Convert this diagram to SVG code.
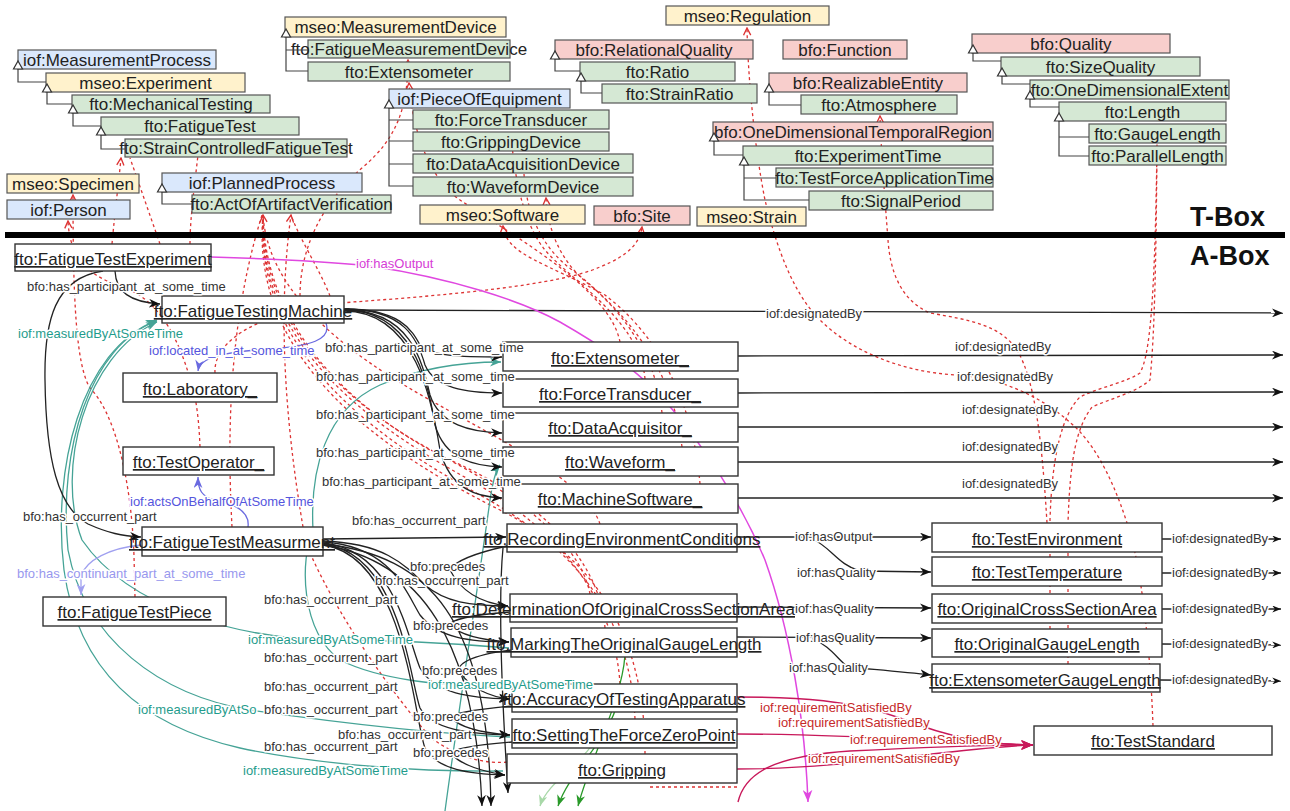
<svg xmlns="http://www.w3.org/2000/svg" width="1290" height="811" viewBox="0 0 1290 811">
<style>
text{font-family:"Liberation Sans",Arial,sans-serif}
.tb{stroke:#555;stroke-width:1.2}
.blue{fill:#dae8fc}.yel{fill:#fff2cc}.grn{fill:#d5e8d4}.red{fill:#f8cecc}
.tt{font-size:17px;fill:#222;text-anchor:middle}
.ab{fill:#fff;stroke:#333;stroke-width:1.4}
.at{font-size:17px;fill:#222;text-anchor:middle;text-decoration:underline}
.dash{fill:none;stroke:#dd3333;stroke-width:1.3;stroke-dasharray:3 3}
.blk{fill:none;stroke:#222;stroke-width:1.3}
.teal{fill:none;stroke:#45a396;stroke-width:1.3}
.pur{fill:none;stroke:#6a6ae0;stroke-width:1.3}
.lpur{fill:none;stroke:#a0a0f0;stroke-width:1.3}
.mag{fill:none;stroke:#e048e0;stroke-width:1.5}
.crim{fill:none;stroke:#c8185a;stroke-width:1.4}
.grnl{fill:none;stroke:#2a9a2a;stroke-width:1.3}
.lgrnl{fill:none;stroke:#a8d8a8;stroke-width:1.3}
.gen{fill:none;stroke:#444;stroke-width:1.2}
.tri{fill:#fff;stroke:#333;stroke-width:1.2}
.lbl{font-size:13px;paint-order:stroke;stroke:#fff;stroke-width:3px;stroke-linejoin:round}
.k{fill:#333}.tl{fill:#1f9c8c}.pu{fill:#5555dd}.lp{fill:#9898ee}.mg{fill:#d63cd6}.cr{fill:#c62a2a}
.box{font-size:27px;font-weight:bold;fill:#111}
</style>
<defs>
<marker id="mk" viewBox="0 0 10 8" refX="10" refY="4" markerWidth="11" markerHeight="9" markerUnits="userSpaceOnUse" orient="auto"><path d="M0,0 L10,4 L0,8 L3,4 z" fill="#111"/></marker>
<marker id="mks" viewBox="0 0 10 8" refX="10" refY="4" markerWidth="9" markerHeight="7" markerUnits="userSpaceOnUse" orient="auto"><path d="M0,0 L10,4 L0,8 L3,4 z" fill="#111"/></marker>
<marker id="mt" viewBox="0 0 10 8" refX="10" refY="4" markerWidth="11" markerHeight="9" markerUnits="userSpaceOnUse" orient="auto"><path d="M0,0 L10,4 L0,8 L3,4 z" fill="#45a396"/></marker>
<marker id="mp" viewBox="0 0 10 8" refX="10" refY="4" markerWidth="11" markerHeight="9" markerUnits="userSpaceOnUse" orient="auto"><path d="M0,0 L10,4 L0,8 L3,4 z" fill="#6a6ae0"/></marker>
<marker id="mlp" viewBox="0 0 10 8" refX="10" refY="4" markerWidth="11" markerHeight="9" markerUnits="userSpaceOnUse" orient="auto"><path d="M0,0 L10,4 L0,8 L3,4 z" fill="#a0a0f0"/></marker>
<marker id="mm" viewBox="0 0 10 8" refX="10" refY="4" markerWidth="12" markerHeight="10" markerUnits="userSpaceOnUse" orient="auto"><path d="M0,0 L10,4 L0,8 L3,4 z" fill="#e048e0"/></marker>
<marker id="mc" viewBox="0 0 10 8" refX="10" refY="4" markerWidth="12" markerHeight="10" markerUnits="userSpaceOnUse" orient="auto"><path d="M0,0 L10,4 L0,8 L3,4 z" fill="#c8185a"/></marker>
<marker id="mg" viewBox="0 0 10 8" refX="10" refY="4" markerWidth="11" markerHeight="9" markerUnits="userSpaceOnUse" orient="auto"><path d="M0,0 L10,4 L0,8 L3,4 z" fill="#2a9a2a"/></marker>
<marker id="mlg" viewBox="0 0 10 8" refX="10" refY="4" markerWidth="11" markerHeight="9" markerUnits="userSpaceOnUse" orient="auto"><path d="M0,0 L10,4 L0,8 L3,4 z" fill="#a8d8a8"/></marker>
<marker id="mo" viewBox="0 0 10 10" refX="9" refY="5" markerWidth="9" markerHeight="9" markerUnits="userSpaceOnUse" orient="auto"><path d="M1,1 L9,5 L1,9" fill="none" stroke="#dd3333" stroke-width="1.5"/></marker>
</defs>
<rect width="1290" height="811" fill="#fff"/>

<g id="connectors">
<!-- type links (dashed) -->
<path class="dash" marker-end="url(#mo)" d="M135 597 L134 556 C131 470 112 410 90 388 C76 365 73 300 73 195"/>
<path class="dash" marker-end="url(#mo)" d="M200 447 C199 420 196 392 188 372 C178 340 160 300 123 287 C92 277 70 262 68 221"/>
<path class="dash" marker-end="url(#mo)" d="M112 244 C115 210 119 180 121 158"/>
<path class="dash" d="M160 244 L130 158"/>
<path class="dash" d="M190 244 C190 215 196 175 200 137"/>
<path class="dash" marker-end="url(#mo)" d="M215 373 C213 340 260 310 353 302 C450 295 560 285 600 267 C630 255 640 242 642 227"/>
<path class="dash" marker-end="url(#mo)" d="M300 296 C300 250 320 205 363 167 C395 140 408 110 408 60"/>
<path class="dash" marker-end="url(#mo)" d="M620 342 C610 290 520 240 460 200 C430 180 412 130 409 83"/>
<path class="dash" d="M645 379 C640 320 570 280 545 250 C522 222 513 170 511 130"/>
<path class="dash" d="M662 413 C655 345 610 300 575 272 C540 248 526 210 524 174"/>
<path class="dash" marker-end="url(#mo)" d="M682 447 C672 365 625 315 590 285 C560 262 548 230 546 198"/>
<path class="dash" marker-end="url(#mo)" d="M700 484 C692 385 645 325 605 295 C545 262 506 255 503 226"/>
<path class="dash" marker-end="url(#mo)" d="M600 524 C585 480 500 440 430 400 C340 350 268 290 263 215"/>
<path class="dash" d="M590 594 C580 540 510 490 430 450 C340 400 265 320 263 215"/>
<path class="dash" d="M605 628 C600 560 540 500 450 460 C350 410 262 330 263 215"/>
<path class="dash" d="M620 684 C615 600 560 530 470 480 C360 420 258 340 263 215"/>
<path class="dash" d="M635 719 C630 620 580 550 480 495 C370 435 255 350 263 215"/>
<path class="dash" d="M645 754 C645 640 600 560 500 510 C380 450 250 360 263 215"/>
<path class="dash" d="M232 527 C228 450 226 330 262 215"/>
<path class="dash" marker-end="url(#mo)" d="M303 527 C290 450 275 330 291 215"/>
<path class="dash" d="M330 296 C320 270 300 240 291 215"/>
<path class="dash" d="M310 553 C340 620 390 690 430 737 C460 760 490 764 507 762"/>
<path class="dash" d="M737 787 L650 787"/>
<path class="dash" marker-end="url(#mo)" d="M1047 523 C1042 440 1035 380 1017 350 C1000 325 970 320 930 313 C900 300 890 270 888 240 C885 200 881 150 880 116"/>
<path class="dash" marker-end="url(#mo)" d="M1153 726 C1150 640 1140 560 1127 523 C1110 470 1090 440 1073 425 C1040 395 1000 378 957 375 C900 372 850 350 820 320 C790 290 775 240 765 200 C755 150 748 80 747 28"/>
<path class="dash" d="M1050 629 L1050 520 C1052 455 1062 415 1080 397 C1100 387 1125 383 1140 373 C1150 355 1155 300 1157 144"/>
<path class="dash" d="M1068 664 L1068 523 C1070 460 1076 428 1092 407 C1112 398 1135 393 1150 380 C1154 340 1156 280 1157 144"/>

<!-- teal measuredBy -->
<path class="teal" marker-end="url(#mt)" d="M503 771 C420 772 320 765 240 748 C140 725 78 670 64 570 C52 470 80 350 157 320"/>
<path class="teal" marker-end="url(#mt)" d="M510 737 C420 733 320 720 250 710 C160 695 85 640 68 550 C58 450 90 345 157 321"/>
<path class="teal" marker-end="url(#mt)" d="M509 648 C450 643 400 640 330 640 C240 638 130 610 82 540 C55 470 85 355 157 322"/>
<path class="teal" marker-end="url(#mt)" d="M313 530 C310 470 325 410 380 385 C420 368 460 362 501 362"/>
<path class="teal" marker-end="url(#mt)" d="M445 811 C460 700 482 560 490 500 C493 480 496 470 500 465"/>
<path class="teal" d="M512 688 C440 686 380 680 340 660 C300 630 300 560 313 530"/>

<!-- black relations -->
<path class="blk" marker-end="url(#mk)" d="M115 271 C116 292 130 302 160 304"/>
<path class="blk" marker-end="url(#mk)" d="M103 271 C55 278 44 320 45 380 C46 460 58 508 88 524 C108 533 122 536 141 537"/>
<path class="blk" marker-end="url(#mk)" d="M344 310 L1283 313"/>
<path class="blk" marker-end="url(#mk)" d="M344 309 C400 309 412 330 420 345 C430 356 460 357 502 357"/>
<path class="blk" marker-end="url(#mk)" d="M344 309 C405 309 418 340 425 365 C435 388 465 393 502 393"/>
<path class="blk" marker-end="url(#mk)" d="M344 310 C410 310 422 360 430 395 C440 425 470 432 502 433"/>
<path class="blk" marker-end="url(#mk)" d="M344 310 C412 310 428 380 435 425 C445 460 475 466 502 467"/>
<path class="blk" marker-end="url(#mk)" d="M344 311 C415 311 432 400 440 450 C450 490 478 497 502 498"/>
<path class="blk" marker-end="url(#mk)" d="M738 356 L1283 355"/>
<path class="blk" marker-end="url(#mk)" d="M738 393 L1283 392"/>
<path class="blk" marker-end="url(#mk)" d="M738 427 L1283 427"/>
<path class="blk" marker-end="url(#mk)" d="M738 462 L1283 462"/>
<path class="blk" marker-end="url(#mk)" d="M738 498 L1283 498"/>
<path class="blk" marker-end="url(#mk)" d="M323 539 L506 537"/>
<path class="blk" marker-end="url(#mk)" d="M323 541 C385 543 405 565 425 585 C445 602 470 606 508 606"/>
<path class="blk" marker-end="url(#mk)" d="M323 542 C390 546 405 590 420 615 C438 638 470 642 509 642"/>
<path class="blk" marker-end="url(#mk)" d="M323 543 C395 550 408 640 420 668 C435 694 470 698 510 699"/>
<path class="blk" marker-end="url(#mk)" d="M323 544 C400 553 410 680 420 708 C432 730 470 734 510 735"/>
<path class="blk" marker-end="url(#mk)" d="M323 545 C405 556 414 720 425 748 C437 770 470 774 505 775"/>
<path class="blk" marker-end="url(#mk)" d="M323 545 C420 560 475 640 482 806"/>
<path class="blk" marker-end="url(#mk)" d="M323 544 C430 555 488 620 491 806"/>
<path class="blk" marker-end="url(#mk)" d="M507 546 C480 552 455 560 450 570 C460 590 480 603 508 606"/>
<path class="blk" marker-end="url(#mk)" d="M510 612 C470 615 450 620 450 625 C460 635 480 640 509 642"/>
<path class="blk" marker-end="url(#mk)" d="M511 650 C470 655 455 665 460 672 C470 688 490 697 510 699"/>
<path class="blk" marker-end="url(#mk)" d="M512 706 C470 710 450 714 452 718 C460 728 485 733 510 735"/>
<path class="blk" marker-end="url(#mk)" d="M512 742 C470 745 450 750 452 754 C460 765 485 772 505 775"/>
<path class="blk" marker-end="url(#mk)" d="M503 548 C498 600 502 700 508 793"/>
<path class="blk" marker-end="url(#mk)" d="M737 537 L931 537"/>
<path class="blk" marker-end="url(#mk)" d="M812 539 C830 546 838 565 860 571 L931 572"/>
<path class="blk" marker-end="url(#mk)" d="M737 607 L931 608"/>
<path class="blk" marker-end="url(#mk)" d="M737 637 L931 638"/>
<path class="blk" marker-end="url(#mk)" d="M812 639 C830 645 838 660 848 667 C880 670 905 672 931 675"/>
<path class="blk" marker-end="url(#mks)" d="M1162 539 L1281 539"/>
<path class="blk" marker-end="url(#mks)" d="M1162 573 L1281 573"/>
<path class="blk" marker-end="url(#mks)" d="M1162 609 L1281 609"/>
<path class="blk" marker-end="url(#mks)" d="M1162 644 L1281 645"/>
<path class="blk" marker-end="url(#mks)" d="M1160 680 L1281 681"/>

<!-- purple -->
<path class="pur" marker-end="url(#mp)" d="M326 323 C332 340 310 346 270 349 C220 352 200 358 198 371"/>
<path class="pur" marker-end="url(#mp)" d="M248 527 C250 512 236 504 215 500 C202 497 198 490 198 477"/>
<path class="lpur" marker-end="url(#mlp)" d="M141 545 C110 548 86 560 81 576 L81 595"/>

<!-- magenta hasOutput -->
<path class="mag" marker-end="url(#mm)" d="M211 257 C280 259 330 262 370 266 C450 278 520 300 560 322 C600 345 630 365 660 395 C700 440 740 500 765 560 C790 630 805 720 808 802"/>

<!-- crimson requirementSatisfiedBy -->
<path class="crim" marker-end="url(#mc)" d="M737 697 C800 697 850 700 900 718 C950 738 990 745 1033 745"/>
<path class="crim" marker-end="url(#mc)" d="M737 734 C850 734 950 742 1033 745"/>
<path class="crim" marker-end="url(#mc)" d="M737 769 C850 769 950 748 1033 745"/>
<path class="crim" marker-end="url(#mc)" d="M738 802 C745 772 775 756 850 751 C950 746 1000 745 1033 745"/>

<!-- green -->
<path class="grnl" marker-end="url(#mg)" d="M625 655 C622 700 590 760 578 806"/>
<path class="grnl" marker-end="url(#mg)" d="M618 700 C610 740 570 770 558 806"/>
<path class="lgrnl" marker-end="url(#mlg)" d="M600 730 C590 760 548 780 540 806"/>
</g>

<rect x="5" y="232" width="1280" height="6" fill="#000"/>
<text class="box" x="1190" y="226">T-Box</text>
<text class="box" x="1190" y="265">A-Box</text>

<!-- T-Box nodes -->
<g id="t-MeasurementProcess"><rect class="tb blue" x="18" y="50" width="198" height="19"/><text class="tt" x="117" y="66">iof:MeasurementProcess</text></g>
<g id="t-Experiment"><rect class="tb yel" x="46" y="73" width="199" height="19"/><text class="tt" x="145.5" y="89">mseo:Experiment</text></g>
<g id="t-MechanicalTesting"><rect class="tb grn" x="72" y="95" width="198" height="18"/><text class="tt" x="171" y="110">fto:MechanicalTesting</text></g>
<g id="t-FatigueTest"><rect class="tb grn" x="101" y="117" width="198" height="18"/><text class="tt" x="200" y="132">fto:FatigueTest</text></g>
<g id="t-StrainControlledFatigueTest"><rect class="tb grn" x="125" y="139" width="222" height="18"/><text class="tt" x="236" y="154">fto:StrainControlledFatigueTest</text></g>
<g id="t-Specimen"><rect class="tb yel" x="7" y="174" width="132" height="19"/><text class="tt" x="73" y="190">mseo:Specimen</text></g>
<g id="t-Person"><rect class="tb blue" x="7" y="200" width="123" height="19"/><text class="tt" x="68.5" y="216">iof:Person</text></g>
<g id="t-PlannedProcess"><rect class="tb blue" x="162" y="173" width="200" height="19"/><text class="tt" x="262" y="189">iof:PlannedProcess</text></g>
<g id="t-ActOfArtifactVerification"><rect class="tb grn" x="192" y="195" width="199" height="18"/><text class="tt" x="291.5" y="210">fto:ActOfArtifactVerification</text></g>
<g id="t-MeasurementDevice"><rect class="tb yel" x="285" y="17" width="221" height="20"/><text class="tt" x="395.5" y="33">mseo:MeasurementDevice</text></g>
<g id="t-FatigueMeasurementDevice"><rect class="tb grn" x="308" y="40" width="202" height="18"/><text class="tt" x="409" y="55">fto:FatigueMeasurementDevice</text></g>
<g id="t-Extensometer"><rect class="tb grn" x="308" y="62" width="202" height="19"/><text class="tt" x="409" y="78">fto:Extensometer</text></g>
<g id="t-PieceOfEquipment"><rect class="tb blue" x="389" y="89" width="181" height="19"/><text class="tt" x="479.5" y="105">iof:PieceOfEquipment</text></g>
<g id="t-ForceTransducer"><rect class="tb grn" x="413" y="110" width="196" height="19"/><text class="tt" x="511" y="126">fto:ForceTransducer</text></g>
<g id="t-GrippingDevice"><rect class="tb grn" x="413" y="132" width="196" height="19"/><text class="tt" x="511" y="148">fto:GrippingDevice</text></g>
<g id="t-DataAcquisitionDevice"><rect class="tb grn" x="413" y="154" width="220" height="19"/><text class="tt" x="523" y="170">fto:DataAcquisitionDevice</text></g>
<g id="t-WaveformDevice"><rect class="tb grn" x="413" y="177" width="220" height="19"/><text class="tt" x="523" y="193">fto:WaveformDevice</text></g>
<g id="t-Software"><rect class="tb yel" x="420" y="205" width="165" height="19"/><text class="tt" x="502.5" y="221">mseo:Software</text></g>
<g id="t-Site"><rect class="tb red" x="594" y="206" width="96" height="19"/><text class="tt" x="642" y="222">bfo:Site</text></g>
<g id="t-Strain"><rect class="tb yel" x="697" y="207" width="109" height="19"/><text class="tt" x="751.5" y="223">mseo:Strain</text></g>
<g id="t-Regulation"><rect class="tb yel" x="666" y="6" width="163" height="19"/><text class="tt" x="747.5" y="22">mseo:Regulation</text></g>
<g id="t-RelationalQuality"><rect class="tb red" x="555" y="40" width="198" height="19"/><text class="tt" x="654" y="56">bfo:RelationalQuality</text></g>
<g id="t-Ratio"><rect class="tb grn" x="580" y="62" width="155" height="19"/><text class="tt" x="657.5" y="78">fto:Ratio</text></g>
<g id="t-StrainRatio"><rect class="tb grn" x="602" y="84" width="155" height="19"/><text class="tt" x="679.5" y="100">fto:StrainRatio</text></g>
<g id="t-Function"><rect class="tb red" x="783" y="40" width="124" height="19"/><text class="tt" x="845" y="56">bfo:Function</text></g>
<g id="t-RealizableEntity"><rect class="tb red" x="769" y="73" width="198" height="19"/><text class="tt" x="868" y="89">bfo:RealizableEntity</text></g>
<g id="t-Atmosphere"><rect class="tb grn" x="801" y="95" width="156" height="19"/><text class="tt" x="879" y="111">fto:Atmosphere</text></g>
<g id="t-OneDimensionalTemporalRegion"><rect class="tb red" x="713" y="122" width="280" height="19"/><text class="tt" x="853" y="138">bfo:OneDimensionalTemporalRegion</text></g>
<g id="t-ExperimentTime"><rect class="tb grn" x="743" y="146" width="250" height="19"/><text class="tt" x="868" y="162">fto:ExperimentTime</text></g>
<g id="t-TestForceApplicationTime"><rect class="tb grn" x="776" y="168" width="217" height="19"/><text class="tt" x="884.5" y="184">fto:TestForceApplicationTime</text></g>
<g id="t-SignalPeriod"><rect class="tb grn" x="809" y="191" width="184" height="19"/><text class="tt" x="901" y="207">fto:SignalPeriod</text></g>
<g id="t-Quality"><rect class="tb red" x="972" y="34" width="198" height="19"/><text class="tt" x="1071" y="50">bfo:Quality</text></g>
<g id="t-SizeQuality"><rect class="tb grn" x="1001" y="57" width="199" height="19"/><text class="tt" x="1100.5" y="73">fto:SizeQuality</text></g>
<g id="t-OneDimensionalExtent"><rect class="tb grn" x="1030" y="80" width="199" height="19"/><text class="tt" x="1129.5" y="96">fto:OneDimensionalExtent</text></g>
<g id="t-Length"><rect class="tb grn" x="1059" y="102" width="167" height="19"/><text class="tt" x="1142.5" y="118">fto:Length</text></g>
<g id="t-GaugeLength"><rect class="tb grn" x="1089" y="124" width="137" height="19"/><text class="tt" x="1157.5" y="140">fto:GaugeLength</text></g>
<g id="t-ParallelLength"><rect class="tb grn" x="1089" y="146" width="137" height="19"/><text class="tt" x="1157.5" y="162">fto:ParallelLength</text></g>

<!-- A-Box nodes -->
<g id="a-FatigueTestExperiment"><rect class="ab" x="15" y="244" width="196" height="27"/><text class="at" x="113" y="265">fto:FatigueTestExperiment</text></g>
<g id="a-FatigueTestingMachine"><rect class="ab" x="162" y="296" width="182" height="27"/><text class="at" x="253" y="317">fto:FatigueTestingMachine</text></g>
<g id="a-Laboratory"><rect class="ab" x="123" y="373" width="154" height="29"/><text class="at" x="200" y="395">fto:Laboratory_</text></g>
<g id="a-TestOperator"><rect class="ab" x="123" y="447" width="151" height="28"/><text class="at" x="198.5" y="468">fto:TestOperator_</text></g>
<g id="a-FatigueTestMeasurment"><rect class="ab" x="142" y="527" width="181" height="29"/><text class="at" x="232" y="548">fto:FatigueTestMeasurment</text></g>
<g id="a-FatigueTestPiece"><rect class="ab" x="43" y="597" width="183" height="29"/><text class="at" x="134.5" y="618">fto:FatigueTestPiece</text></g>
<g id="a-Extensometer"><rect class="ab" x="503" y="342" width="235" height="29"/><text class="at" x="620" y="364">fto:Extensometer_</text></g>
<g id="a-ForceTransducer"><rect class="ab" x="503" y="379" width="235" height="28"/><text class="at" x="620" y="400">fto:ForceTransducer_</text></g>
<g id="a-DataAcquisitor"><rect class="ab" x="503" y="413" width="235" height="29"/><text class="at" x="620" y="434">fto:DataAcquisitor_</text></g>
<g id="a-Waveform"><rect class="ab" x="503" y="447" width="235" height="29"/><text class="at" x="620" y="468">fto:Waveform_</text></g>
<g id="a-MachineSoftware"><rect class="ab" x="503" y="484" width="235" height="29"/><text class="at" x="620" y="505">fto:MachineSoftware_</text></g>
<g id="a-RecordingEnvironmentConditions"><rect class="ab" x="507" y="524" width="230" height="28"/><text class="at" x="622" y="545">fto:RecordingEnvironmentConditions</text></g>
<g id="a-DeterminationOfOriginalCrossSectionArea"><rect class="ab" x="510" y="594" width="227" height="28"/><text class="at" x="623.5" y="615">fto:DeterminationOfOriginalCrossSectionArea</text></g>
<g id="a-MarkingTheOriginalGaugeLength"><rect class="ab" x="511" y="628" width="226" height="29"/><text class="at" x="624" y="650">fto:MarkingTheOriginalGaugeLength</text></g>
<g id="a-AccuracyOfTestingApparatus"><rect class="ab" x="512" y="684" width="225" height="28"/><text class="at" x="624" y="705">fto:AccuracyOfTestingApparatus</text></g>
<g id="a-SettingTheForceZeroPoint"><rect class="ab" x="512" y="719" width="225" height="29"/><text class="at" x="624" y="741">fto:SettingTheForceZeroPoint</text></g>
<g id="a-Gripping"><rect class="ab" x="507" y="754" width="230" height="29"/><text class="at" x="622" y="776">fto:Gripping</text></g>
<g id="a-TestEnvironment"><rect class="ab" x="932" y="523" width="230" height="29"/><text class="at" x="1047" y="545">fto:TestEnvironment</text></g>
<g id="a-TestTemperature"><rect class="ab" x="932" y="557" width="230" height="29"/><text class="at" x="1047" y="578">fto:TestTemperature</text></g>
<g id="a-OriginalCrossSectionArea"><rect class="ab" x="932" y="594" width="230" height="29"/><text class="at" x="1047" y="615">fto:OriginalCrossSectionArea</text></g>
<g id="a-OriginalGaugeLength"><rect class="ab" x="932" y="629" width="230" height="28"/><text class="at" x="1047" y="650">fto:OriginalGaugeLength</text></g>
<g id="a-ExtensometerGaugeLength"><rect class="ab" x="932" y="664" width="228" height="28"/><text class="at" x="1045" y="686">fto:ExtensometerGaugeLength</text></g>
<g id="a-TestStandard"><rect class="ab" x="1034" y="726" width="238" height="29"/><text class="at" x="1153" y="747">fto:TestStandard</text></g>

<!-- subclass links -->
<g id="subclass-links">
<path class="gen" d="M18 69 V82 H46 M47 92 V104 H72 M73 113 V126 H101 M101 135 V149 H125 M162 192 V204 H192 M286 37 V71 H308 M286 50 H308 M389 108 V186 H413 M389 120 H413 M389 141 H413 M389 164 H413 M555 59 V71 H580 M581 81 V93 H602 M769 92 V105 H801 M714 141 V155 H743 M744 165 V200 H809 M744 178 H776 M973 53 V61 H1001 M1002 76 V84 H1030 M1030 99 V107 H1059 M1059 121 V156 H1089 M1059 137 H1089"/>
<polygon class="tri" points="13.5,69 22.5,69 18,61"/>
<polygon class="tri" points="42.5,92 51.5,92 47,84"/>
<polygon class="tri" points="68.5,113 77.5,113 73,105"/>
<polygon class="tri" points="96.5,135 105.5,135 101,127"/>
<polygon class="tri" points="157.5,192 166.5,192 162,184"/>
<polygon class="tri" points="281.5,37 290.5,37 286,29"/>
<polygon class="tri" points="384.5,108 393.5,108 389,100"/>
<polygon class="tri" points="550.5,59 559.5,59 555,51"/>
<polygon class="tri" points="576.5,81 585.5,81 581,73"/>
<polygon class="tri" points="764.5,92 773.5,92 769,84"/>
<polygon class="tri" points="709.5,141 718.5,141 714,133"/>
<polygon class="tri" points="739.5,165 748.5,165 744,157"/>
<polygon class="tri" points="968.5,53 977.5,53 973,45"/>
<polygon class="tri" points="997.5,76 1006.5,76 1002,68"/>
<polygon class="tri" points="1025.5,99 1034.5,99 1030,91"/>
<polygon class="tri" points="1054.5,121 1063.5,121 1059,113"/>
</g>

<!-- connector labels -->
<g id="connector-labels" class="lbl">
<text class="k" x="27" y="291">bfo:has_participant_at_some_time</text>
<text class="k" x="23" y="521">bfo:has_occurrent_part</text>
<text class="tl" x="18" y="338">iof:measuredByAtSomeTime</text>
<text class="pu" x="149" y="355">iof:located_in_at_some_time</text>
<text class="pu" x="130" y="506">iof:actsOnBehalfOfAtSomeTime</text>
<text class="lp" x="17" y="578">bfo:has_continuant_part_at_some_time</text>
<text class="mg" x="356" y="268">iof:hasOutput</text>
<text class="k" x="766" y="318">iof:designatedBy</text>
<text class="k" x="325" y="352">bfo:has_participant_at_some_time</text>
<text class="k" x="316" y="381">bfo:has_participant_at_some_time</text>
<text class="k" x="316" y="419">bfo:has_participant_at_some_time</text>
<text class="k" x="316" y="457">bfo:has_participant_at_some_time</text>
<text class="k" x="322" y="486">bfo:has_participant_at_some_time</text>
<text class="k" x="955" y="351">iof:designatedBy</text>
<text class="k" x="957" y="381">iof:designatedBy</text>
<text class="k" x="962" y="414">iof:designatedBy</text>
<text class="k" x="962" y="451">iof:designatedBy</text>
<text class="k" x="962" y="488">iof:designatedBy</text>
<text class="k" x="352" y="525">bfo:has_occurrent_part</text>
<text class="k" x="375" y="585">bfo:has_occurrent_part</text>
<text class="k" x="264" y="604">bfo:has_occurrent_part</text>
<text class="k" x="264" y="662">bfo:has_occurrent_part</text>
<text class="k" x="264" y="691">bfo:has_occurrent_part</text>
<text class="k" x="264" y="714">bfo:has_occurrent_part</text>
<text class="k" x="338" y="739">bfo:has_occurrent_part</text>
<text class="k" x="264" y="751">bfo:has_occurrent_part</text>
<text class="k" x="410" y="571">bfo:precedes</text>
<text class="k" x="413" y="630">bfo:precedes</text>
<text class="k" x="422" y="675">bfo:precedes</text>
<text class="k" x="413" y="721">bfo:precedes</text>
<text class="k" x="413" y="757">bfo:precedes</text>
<text class="tl" x="248" y="644">iof:measuredByAtSomeTime</text>
<text class="tl" x="138" y="714">iof:measuredByAtSo</text>
<text class="tl" x="243" y="775">iof:measuredByAtSomeTime</text>
<text class="tl" x="428" y="689">iof:measuredByAtSomeTime</text>
<text class="k" x="795" y="541">iof:hasOutput</text>
<text class="k" x="797" y="577">iof:hasQuality</text>
<text class="k" x="795" y="613">iof:hasQuality</text>
<text class="k" x="796" y="642">iof:hasQuality</text>
<text class="k" x="789" y="672">iof:hasQuality</text>
<text class="k" x="1172" y="543">iof:designatedBy</text>
<text class="k" x="1172" y="577">iof:designatedBy</text>
<text class="k" x="1172" y="613">iof:designatedBy</text>
<text class="k" x="1172" y="648">iof:designatedBy</text>
<text class="k" x="1172" y="684">iof:designatedBy</text>
<text class="cr" x="760" y="712">iof:requirementSatisfiedBy</text>
<text class="cr" x="778" y="727">iof:requirementSatisfiedBy</text>
<text class="cr" x="850" y="744">iof:requirementSatisfiedBy</text>
<text class="cr" x="808" y="763">iof:requirementSatisfiedBy</text>
</g>
</svg>
